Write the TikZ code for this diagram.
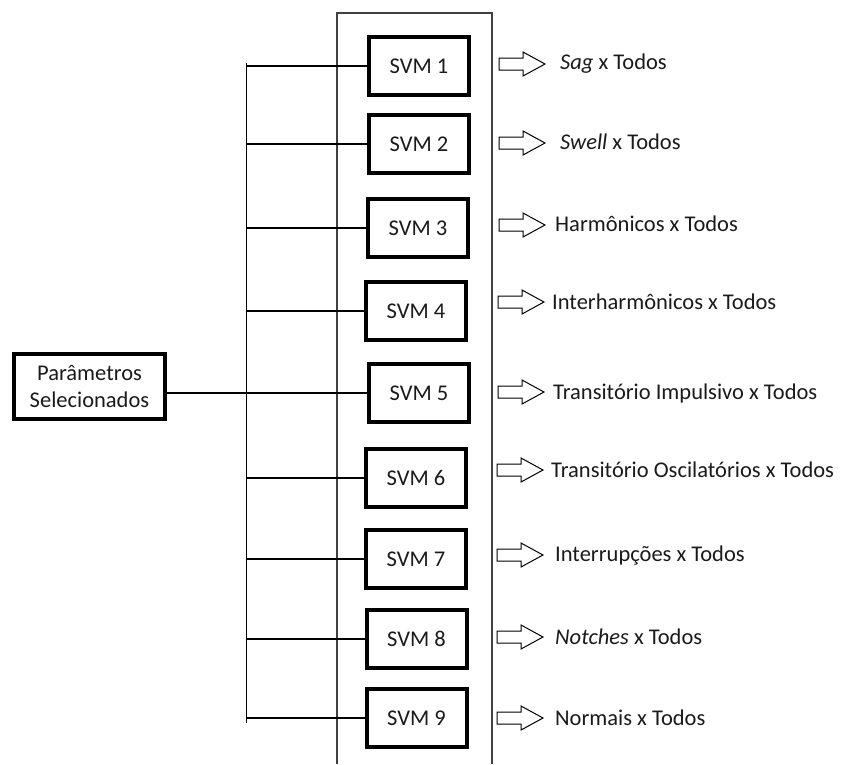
\documentclass[tikz,border=0pt]{standalone}
\usepackage{fontspec}
\setmainfont{Carlito}
\definecolor{ink}{HTML}{1A1A1A}
\definecolor{frame}{HTML}{404040}
\begin{document}
\begin{tikzpicture}[x=1pt,y=-1pt,
  every node/.style={text=ink},
  txt/.style={font=\fontsize{22.5}{27}\selectfont},
  svmbox/.style={txt, draw=black, line width=4pt, minimum width=100pt,
    minimum height=58pt, inner sep=0pt},
  parbox/.style={txt, draw=black, line width=4pt, minimum width=151pt,
    minimum height=65pt, inner sep=0pt, align=center},
  thin/.style={line width=1.3pt, draw=black},
  blockarrow/.pic={
    \draw[draw=black, fill=white, line width=1pt, line join=miter]
      (0,-6) -- (24,-6) -- (24,-12) -- (46,0) -- (24,12) -- (24,6) -- (0,6) -- cycle;
  },
  lbl/.style={txt, anchor=base west, inner sep=0pt}
]
\useasboundingbox (0,0) rectangle (842,764);

% enclosing frame, open at the bottom
\draw[line width=1.3pt, draw=frame] (337,764) -- (337,13) -- (492,13) -- (492,764);

% distribution bus
\coordinate (bustop) at (246.5,63);
\coordinate (busbot) at (246.5,723);
\draw[thin] (bustop) -- (busbot);

% classifiers
\node[svmbox] (s1) at (419,66)  {SVM 1};
\node[svmbox] (s2) at (419,144) {SVM 2};
\node[svmbox] (s3) at (418,228) {SVM 3};
\node[svmbox] (s4) at (416,311) {SVM 4};
\node[svmbox] (s5) at (419,393) {SVM 5};
\node[svmbox] (s6) at (416,478) {SVM 6};
\node[svmbox] (s7) at (416,559) {SVM 7};
\node[svmbox] (s8) at (416.5,639) {SVM 8};
\node[svmbox] (s9) at (416.5,718) {SVM 9};

% input block
\node[parbox] (par) at (89.5,386.5) {Parâmetros\\Selecionados};

% bus taps
\foreach \s in {s1,s2,s3,s4,s6,s7,s8,s9}
  \draw[thin] (\s.west -| bustop) -- (\s.west);
\draw[thin] (par.east |- s5.west) -- (s5.west);

% outputs
\coordinate (a1) at (499,64);
\coordinate (a2) at (499,143);
\coordinate (a3) at (499,225);
\coordinate (a4) at (498,302);
\coordinate (a5) at (498,392);
\coordinate (a6) at (497,470);
\coordinate (a7) at (497,555);
\coordinate (a8) at (497,637);
\coordinate (a9) at (497,718);
\foreach \a in {a1,a2,a3,a4,a5,a6,a7,a8,a9}
  \pic at (\a) {blockarrow};

\node[lbl] (l1) at (560,69)  {\textit{Sag} x Todos};
\node[lbl] (l2) at (560,149) {\textit{Swell} x Todos};
\node[lbl] (l3) at (555,231) {Harmônicos x Todos};
\node[lbl] (l4) at (552,309) {Interharmônicos x Todos};
\node[lbl] (l5) at (553,399) {Transitório Impulsivo x Todos};
\node[lbl] (l6) at (551,477) {Transitório Oscilatórios x Todos};
\node[lbl] (l7) at (555,561) {Interrupções x Todos};
\node[lbl] (l8) at (555,644) {\textit{Notches} x Todos};
\node[lbl] (l9) at (555,725) {Normais x Todos};
\end{tikzpicture}
\end{document}
